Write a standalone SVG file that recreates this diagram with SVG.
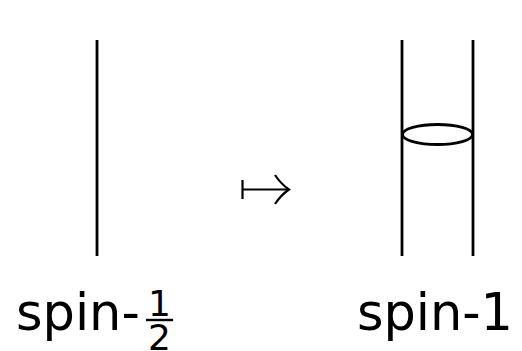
<svg xmlns="http://www.w3.org/2000/svg" width="522" height="351" viewBox="0 0 522 351">
<style>
.ln{stroke:#000;stroke-width:2.8;fill:none}
.t{font-family:"DejaVu Sans",sans-serif;fill:#000}
</style>
<rect width="522" height="351" fill="#fff"/>
<g id="spin-half">
<line class="ln" x1="97" y1="40" x2="97" y2="256"/>
<text class="t" x="16" y="330" font-size="51">spin-</text>
<text class="t" x="159.5" y="316" font-size="36" text-anchor="middle">1</text>
<line x1="146" y1="320" x2="173" y2="320" stroke="#000" stroke-width="2.4"/>
<text class="t" x="159.5" y="350" font-size="36" text-anchor="middle">2</text>
</g>
<g id="spin-one">
<line class="ln" x1="402" y1="40" x2="402" y2="256"/>
<line class="ln" x1="473" y1="40" x2="473" y2="256"/>
<ellipse class="ln" cx="437.5" cy="134.5" rx="35" ry="10" stroke-width="3"/>
<text class="t" x="357" y="330" font-size="51" textLength="156">spin-1</text>
</g>
<g id="connectors">
<line x1="242.5" y1="180" x2="242.5" y2="199" stroke="#000" stroke-width="2.2"/>
<line x1="242.5" y1="189.5" x2="288" y2="189.5" stroke="#000" stroke-width="2.2"/>
<path d="M275,175 Q281,184 289,189.5 Q281,195 275,204" fill="none" stroke="#000" stroke-width="2.2"/>
</g>
</svg>
